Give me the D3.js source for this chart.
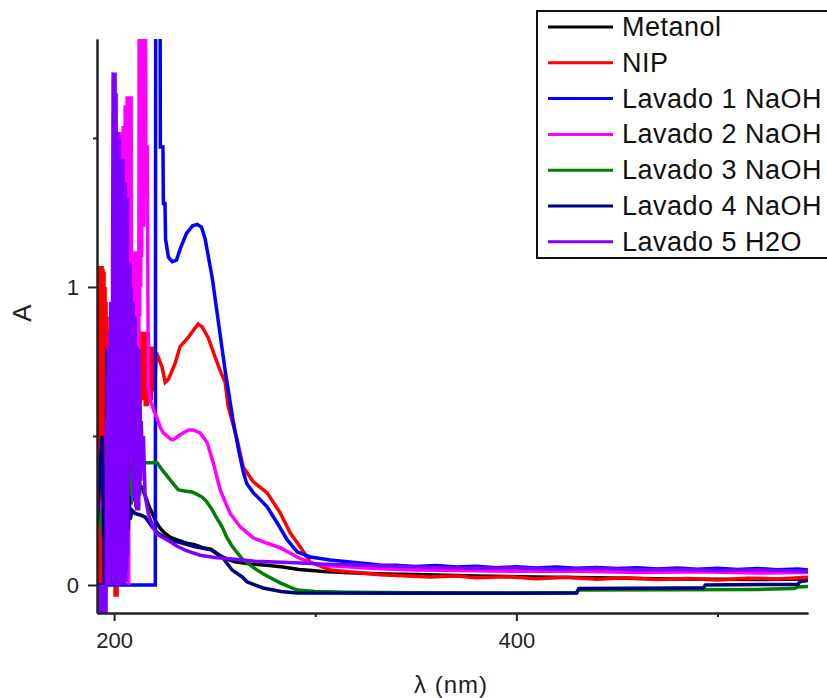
<!DOCTYPE html>
<html>
<head>
<meta charset="utf-8">
<script src="https://cdn.jsdelivr.net/npm/d3@7"></script>
<style>
  body { margin: 0; background: #fff; }
  svg { font-family: "Liberation Sans", Arial, sans-serif; }
</style>
</head>
<body>
<div id="chart"></div>
<script>
// series names as in the legend
const seriesNames = ["Metanol", "NIP", "Lavado 1 NaOH", "Lavado 2 NaOH", "Lavado 3 NaOH", "Lavado 4 NaOH", "Lavado 5 H2O"];
const seriesColors = ["#000000", "#ff0000", "#0000ff", "#ff00ff", "#008000", "#000080", "#8000ff"];

const xMajorTicks = [200, 400];
const xMinorTicks = [300, 500];
const yMajorTicks = [0, 1];
const yMinorTicks = [0.5, 1.5];

// [wavelength nm, absorbance]
const metanol = [[191.5,0.5],[192.5,0.1],[193.5,0.62],[194.5,0.05],[195.5,0.7],[196.5,0.79],[197,0.15],[198,0.65],[199,0.05],
  [200,0.9],[201,0.1],[202,1.0],[203,0.1],[204,0.9],[205,0.15],[206,0.7],[207,0.2],[208,0.45],[209,0.3],[210,0.35],[211,0.36],
  [212,0.34],[213.5,0.33],[215.5,0.3],[217,0.27],[219,0.24],[221,0.21],[223,0.19],[225,0.175],[228,0.16],[232,0.15],[236,0.14],
  [240,0.135],[244,0.125],[248,0.12],[252,0.1],[256,0.088],[260,0.078],[268,0.07],[276,0.066],[284,0.06],[292,0.052],[300,0.048],
  [306,0.044],[320,0.04],[335,0.037],[350,0.035],[365,0.033],[380,0.03],[400,0.028],[420,0.026],[440,0.024],[460,0.022],
  [480,0.02],[500,0.019],[520,0.018],[545,0.02]];

const nip = [[191.5,1.07],[191.75,0],[192,1.07],[192.25,0.02],[192.5,1.07],[192.75,0],[193,1.07],[193.25,0.03],[193.5,1.07],
  [193.75,0],[194,1.07],[194.25,0.02],[194.5,1.06],[194.75,0],[195,1.05],[195.25,0.05],[195.5,1.0],[195.75,0.1],[196,0.95],
  [196.25,0.2],[196.5,0.9],[196.75,0.3],[197,0.85],[197.5,0.2],[198,0.8],[199,0.0],[200,0.9],[200.5,-0.034],[201.5,-0.034],
  [202,0.6],[203,0.1],[204,1.0],[205,0.2],[206,1.1],[207,0.3],[208,1.1],[209,0.4],[210,1.0],[211,0.5],[212,0.9],[213,0.6],
  [214,0.85],[214.5,0.62],[215,0.85],[215.5,0.6],[216,0.85],[216.5,0.6],[217,0.85],[217.5,0.62],[218,0.8],[218.5,0.62],
  [219,0.8],[219.5,0.65],[220,0.78],[220.5,0.7],[221,0.78],[221.9,0.765],[223.9,0.73],[225.4,0.68],[227,0.69],[228.9,0.72],
  [230.4,0.745],[232.8,0.8],[236.8,0.83],[240,0.86],[241.8,0.875],[243.8,0.866],[246.8,0.83],[250.2,0.765],[252.7,0.72],
  [255.2,0.68],[256.7,0.6],[261.2,0.487],[264.2,0.396],[269.2,0.346],[276.1,0.309],[282.6,0.242],[287.6,0.174],[292.5,0.128],
  [297.5,0.077],[307.5,0.05],[332,0.034],[357,0.027],[370,0.03],[380,0.024],[395,0.028],[410,0.021],[425,0.026],[440,0.019],
  [455,0.024],[470,0.018],[485,0.022],[500,0.017],[515,0.023],[530,0.02],[545,0.026]];

const lavado1 = [[191.5,0],[220.5,0],[220.7,2.2],[222.8,2.2],[223,1.47],[224.3,1.47],[224.5,1.28],[225.3,1.28],[225.6,1.16],
  [227,1.1],[228.9,1.085],[231,1.09],[233,1.13],[236,1.18],[239,1.205],[241.3,1.21],[243.5,1.2],[245.3,1.16],[248.8,1.03],
  [251.7,0.89],[255.2,0.72],[259.2,0.55],[262,0.45],[264.2,0.38],[266,0.34],[269.2,0.31],[276.1,0.262],[281.1,0.208],
  [286.1,0.151],[291,0.111],[297.5,0.094],[307.5,0.084],[332,0.067],[340,0.066],[350,0.062],[360,0.065],[370,0.06],[380,0.063],
  [390,0.058],[400,0.061],[410,0.057],[420,0.06],[430,0.056],[440,0.059],[450,0.055],[460,0.058],[470,0.054],[480,0.057],
  [490,0.053],[500,0.056],[510,0.052],[520,0.055],[530,0.051],[540,0.054],[545,0.05]];

const lavado2 = [[191.5,0.3],[196,0.2],[197,0.5],[198,0.1],[199,0.9],[200,0.1],[201,1.52],[201.25,0.3],[201.5,1.52],
  [201.75,0.3],[202,1.52],[202.25,0.3],[202.5,1.52],[202.75,0.3],[203,1.52],[203.25,0.3],[203.5,1.52],[203.75,0.3],[204,1.52],
  [204.25,0.3],[204.5,1.54],[204.75,0.4],[205,1.54],[205.25,0.4],[205.5,1.61],[205.75,0.4],[206,1.61],[206.25,0.4],[206.5,1.64],
  [206.75,0.5],[207,1.64],[207.25,0.0],[207.5,1.64],[207.75,0.5],[208,1.64],[208.25,0.5],[208.5,1.64],[208.75,0.5],[209,1.12],
  [209.25,0.5],[209.5,1.12],[209.75,0.5],[210,1.12],[210.25,0.5],[210.5,1.12],[210.75,0.5],[211,1.12],[211.25,0.5],[211.5,1.1],
  [211.75,0.55],[212,1.1],[212.25,0.6],[212.5,2.2],[212.75,0.9],[213,2.2],[213.25,1.0],[213.5,2.2],[213.75,1.1],[214,2.2],
  [214.25,1.2],[214.5,2.2],[214.75,1.2],[215,2.2],[215.25,1.3],[215.5,2.2],[215.8,1.47],[216.5,1.47],[217,0.67],[218,0.62],
  [219,0.6],[220,0.58],[221.4,0.56],[222.9,0.53],[224.5,0.51],[226.4,0.5],[228,0.49],[229.4,0.487],[232,0.5],[234.3,0.51],
  [237,0.52],[239.3,0.52],[242.8,0.51],[246.3,0.477],[249.3,0.41],[252.7,0.32],[257.7,0.24],[262.7,0.195],[269.2,0.158],
  [276.1,0.14],[282.6,0.125],[291,0.094],[297.5,0.074],[305,0.065],[330,0.055],[350,0.05],[370,0.049],[400,0.046],[430,0.046],
  [460,0.042],[490,0.044],[520,0.04],[545,0.042]];

const lavado3 = [[191.5,0.3],[196,0.1],[197,0.6],[198,0.1],[199,0.8],[200,0.0],[201,1.0],[202,0.1],[203,1.2],[204,0.1],
  [205,0.9],[206,0.2],[206.8,0.5],[207.3,0.22],[208,0.38],[208.6,0.27],[209.3,0.36],[210,0.3],[210.8,0.4],[212,0.41],
  [215.4,0.41],[218,0.41],[221.4,0.41],[223.9,0.386],[227,0.36],[231.8,0.32],[235,0.315],[238.8,0.312],[241,0.305],
  [243.8,0.295],[246,0.28],[248.8,0.252],[251,0.225],[253.7,0.195],[256,0.16],[258.7,0.13],[261,0.11],[263.7,0.088],
  [267,0.07],[271.1,0.05],[276,0.03],[282.6,0.007],[291,-0.017],[300,-0.022],[316,-0.024],[350,-0.026],[400,-0.027],
  [430,-0.025],[431,-0.017],[480,-0.016],[520,-0.015],[538,-0.012],[540,-0.007],[545,-0.005]];

const lavado4 = [[191.5,0.2],[194,0.5],[195,0.1],[195.5,-0.2],[196,0.3],[196.5,0.79],[197,0.63],[197.5,0.1],[198.5,0.7],
  [199.5,0.05],[201,1.1],[202,0.1],[203,0.9],[204,0.05],[205,0.8],[206,0.1],[206.7,0.45],[207,0.185],[207.5,0.3],[208,0.22],
  [209,0.25],[210.4,0.24],[213,0.235],[215.4,0.228],[218.9,0.195],[221.9,0.174],[226.9,0.151],[233.8,0.141],[240.3,0.128],
  [248.8,0.117],[253.7,0.094],[258.7,0.05],[263.7,0.027],[266.2,0.01],[274,-0.01],[283,-0.022],[291,-0.027],[350,-0.028],
  [430,-0.027],[431,-0.012],[480,-0.01],[493,-0.009],[494,0.0],[540,0.002],[541,0.012],[545,0.015]];

const lavado5 = [[191.5,-0.2],[191.75,0],[192,-0.2],[192.25,-0.01],[192.5,-0.2],[192.75,0],[193,-0.2],[193.25,-0.02],
  [193.5,-0.2],[193.75,0],[194,-0.2],[194.25,-0.01],[194.5,-0.2],[194.75,0],[195,-0.2],[195.25,-0.01],[195.5,-0.2],[195.75,0],
  [196,-0.1],[196.25,0.55],[196.5,0.02],[196.75,0.7],[197,0],[197.25,0.8],[197.5,0.01],[197.75,0.85],[198,0],[198.25,0.95],
  [198.5,0.02],[198.75,0.95],[199,0],[199.25,1.1],[199.5,1.72],[199.75,0.01],[200,1.72],[200.25,0],[200.5,1.72],[200.75,0.02],
  [201,1.65],[201.25,0],[201.5,1.52],[201.75,0.01],[202,1.52],[202.25,0],[202.5,1.5],[202.75,0.02],[203,1.43],[203.25,0],
  [203.5,1.43],[203.75,0.01],[204,1.42],[204.25,0],[204.5,1.43],[204.75,0.02],[205,1.35],[205.25,0],[205.5,1.35],[205.75,0.01],
  [206,1.3],[206.25,0.05],[206.5,1.3],[206.75,0.1],[207,1.08],[207.25,0.42],[207.5,1.08],[207.75,0.45],[208,1.08],[208.25,0.42],
  [208.5,1.0],[208.75,0.45],[209,0.95],[209.25,0.35],[209.5,0.95],[209.75,0.3],[210,0.9],[210.25,0.28],[210.5,0.9],[210.75,0.26],
  [211,0.8],[211.25,0.25],[211.5,0.8],[211.75,0.27],[212,0.79],[212.25,0.25],[212.5,0.79],[212.75,0.3],[213,0.6],[213.25,0.35],
  [213.5,0.55],[214,0.42],[214.6,0.5],[215.4,0.3],[217,0.24],[219,0.2],[221.4,0.17],[224,0.16],[228,0.145],[231.3,0.13],
  [236,0.115],[242.8,0.1],[250,0.092],[259,0.087],[270,0.08],[280,0.077],[292.5,0.074],[305,0.07],[320,0.067],[340,0.063],
  [360,0.059],[380,0.056],[400,0.057],[420,0.053],[440,0.055],[460,0.051],[480,0.053],[500,0.049],[520,0.051],[545,0.046]];

const allSeries = [metanol, nip, lavado1, lavado2, lavado3, lavado4, lavado5];

const width = 827, height = 698;
const svg = d3.select("#chart").append("svg")
  .attr("width", width)
  .attr("height", height);

const xScale = d3.scaleLinear().domain([191.5, 545]).range([97, 808]);
const yScale = d3.scaleLinear().domain([-0.094, 1.832]).range([613, 39]);

svg.append("clipPath").attr("id", "plot-clip")
  .append("rect")
  .attr("x", 97).attr("y", 39)
  .attr("width", 711).attr("height", 574);

const line = d3.line()
  .x(d => xScale(d[0]))
  .y(d => yScale(d[1]));

const plot = svg.append("g").attr("clip-path", "url(#plot-clip)");
allSeries.forEach((s, i) => {
  plot.append("path")
    .datum(s)
    .attr("fill", "none")
    .attr("stroke", seriesColors[i])
    .attr("stroke-width", 3.5)
    .attr("d", line);
});

// axes
svg.append("g")
  .attr("transform", "translate(0,613)")
  .call(d3.axisBottom(xScale).tickValues(xMajorTicks).tickSize(8).tickSizeOuter(0).tickPadding(11).tickFormat(d3.format("d")));
svg.append("g")
  .attr("transform", "translate(0,613)")
  .call(d3.axisBottom(xScale).tickValues(xMinorTicks).tickSize(4).tickSizeOuter(0).tickFormat(""));

svg.append("g")
  .attr("transform", "translate(97,0)")
  .call(d3.axisLeft(yScale).tickValues(yMajorTicks).tickSize(9).tickSizeOuter(0).tickPadding(9).tickFormat(d3.format("d")));
svg.append("g")
  .attr("transform", "translate(97,0)")
  .call(d3.axisLeft(yScale).tickValues(yMinorTicks).tickSize(4).tickSizeOuter(0).tickFormat(""));

svg.selectAll(".domain").attr("stroke", "#222").attr("stroke-width", 2);
svg.selectAll(".tick line").attr("stroke", "#222").attr("stroke-width", 2);
svg.selectAll(".tick text")
  .attr("fill", "#222")
  .style("font-size", "22px")
  .style("font-family", "'Liberation Sans', Arial, sans-serif");

// axis titles
svg.append("text")
  .attr("transform", "translate(22,313) rotate(-90)")
  .attr("text-anchor", "middle")
  .attr("dominant-baseline", "central")
  .style("font-size", "26px")
  .attr("fill", "#222")
  .text("A");

svg.append("text")
  .attr("x", 451)
  .attr("y", 693)
  .attr("text-anchor", "middle")
  .style("font-size", "24px")
  .style("letter-spacing", "1px")
  .attr("fill", "#222")
  .text("λ (nm)");

// legend
const legend = svg.append("g");
legend.append("rect")
  .attr("x", 537).attr("y", 11)
  .attr("width", 300).attr("height", 247)
  .attr("fill", "#fff")
  .attr("stroke", "#111")
  .attr("stroke-width", 2);

seriesNames.forEach((name, i) => {
  const ry = 27 + i * 35.8;
  legend.append("line")
    .attr("x1", 548).attr("x2", 613)
    .attr("y1", ry).attr("y2", ry)
    .attr("stroke", seriesColors[i])
    .attr("stroke-width", 3);
  legend.append("text")
    .attr("x", 622)
    .attr("y", ry)
    .attr("dominant-baseline", "central")
    .style("font-size", "27px")
    .style("letter-spacing", "0.5px")
    .attr("fill", "#111")
    .text(name);
});
</script>
</body>
</html>
